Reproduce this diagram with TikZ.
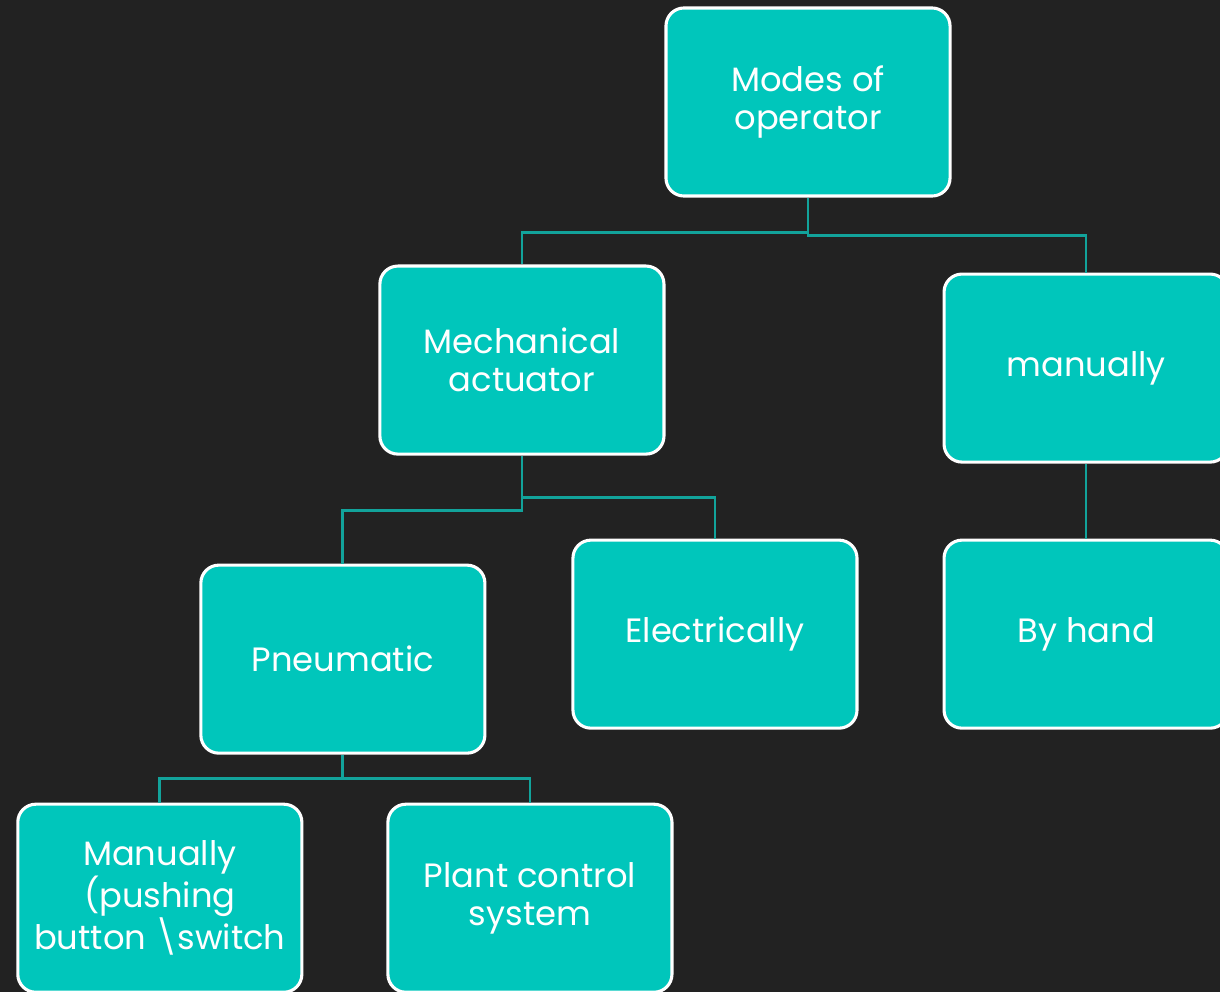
\documentclass[tikz,border=0pt]{standalone}
\usepackage{fontspec}
\setmainfont{Poppins}
\usepackage{tikz}
\usetikzlibrary{positioning}
\usepackage{xcolor}
\definecolor{bgdark}{HTML}{222222}
\definecolor{boxteal}{HTML}{00C6BB}
\definecolor{lineteal}{HTML}{12A39B}

\begin{document}
\begin{tikzpicture}[x=0.025cm,y=-0.025cm,on grid,semithick]
  \tikzstyle{box}=[draw=white,line width=2.2pt,fill=boxteal,text=white,rounded corners=0.45cm,
                   minimum width=7.1cm,minimum height=4.7cm,align=center,
                   font=\fontsize{24}{27}\selectfont]
  \tikzstyle{link}=[draw=lineteal,line width=2pt]

  \useasboundingbox (0,0) rectangle (1220,992);
  \clip (0,0) rectangle (1220,992);
  \fill[bgdark] (0,0) rectangle (1220,992);

  \node[box] (A) at (808,102) {Modes of\\operator};
  \node[box] (B) [below left=6.45cm and 7.15cm of A] {Mechanical\\actuator};
  \node[box] (C) [below right=6.65cm and 6.95cm of A] {manually};
  \node[box] (D) [below left=7.475cm and 4.475cm of B] {Pneumatic};
  \node[box] (E) [below right=6.85cm and 4.825cm of B] {Electrically};
  \node[box] (F) [below=6.65cm of C] {By hand};
  \node[box] (G) [below left=5.975cm and 4.575cm of D] {Manually\\(pushing\\button \textbackslash switch};
  \node[box] (H) [below right=5.975cm and 4.675cm of D] {Plant control\\system};

  \draw[link] (A.south) -- ++(0,-0.875cm) -| (B.north);
  \draw[link] (A.south) -- ++(0,-0.95cm) -| (C.north);
  \draw[link] (B.south) -- ++(0,-1.375cm) -| (D.north);
  \draw[link] (B.south) -- ++(0,-1.05cm) -| (E.north);
  \draw[link] (C.south) -- (F.north);
  \draw[link] (D.south) -- ++(0,-0.6cm) -| (G.north);
  \draw[link] (D.south) -- ++(0,-0.6cm) -| (H.north);
\end{tikzpicture}
\end{document}
